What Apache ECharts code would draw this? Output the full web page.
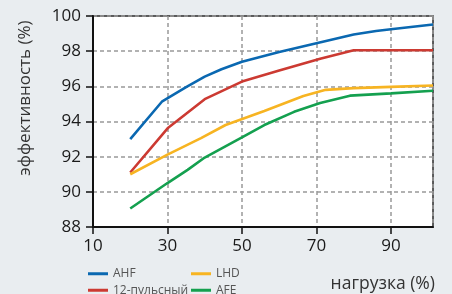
<!DOCTYPE html>
<html>
<head>
<meta charset="utf-8">
<script src="https://cdn.jsdelivr.net/npm/echarts@6/dist/echarts.min.js"></script>
<style>
html,body{margin:0;padding:0;background:#e9edf0;}
#main{width:452px;height:294px;}
</style>
</head>
<body>
<div id="main"></div>
<script>
// данные (нагрузка %, КПД %)
var ahf = [[20,93.0],[28.6,95.15],[35,95.95],[40,96.55],[44.5,96.97],[50,97.4],[60,97.95],[70,98.45],[80,98.95],[86,99.15],[90,99.25],[101.3,99.52]];
var pulse12 = [[20,91.1],[30.2,93.65],[40,95.27],[50,96.27],[60,96.9],[71,97.57],[80,98.05],[90,98.05],[101.3,98.05]];
var lhd = [[20,91.0],[30,92.12],[39,93.05],[45.6,93.8],[56,94.6],[66.5,95.45],[72.5,95.8],[80,95.9],[90,95.97],[101.3,96.05]];
var afe = [[20,89.05],[30,90.5],[35.4,91.25],[40,91.95],[50,93.1],[56,93.8],[64,94.55],[71,95.05],[79,95.47],[90,95.6],[101.3,95.75]];

var names = ['AHF','12-пульсный','LHD','AFE'];
var colors = ['#0a68b1','#cc3a32','#f7b422','#14a04f'];
var xTicks = [10,30,50,70,90];

var myChart = echarts.init(document.getElementById('main'));
var font = '"Open Sans", "Noto Sans", sans-serif';

function mkSeries(name, data, color){
	return {
		name: name,
		type: 'line',
		data: data,
		showSymbol: false,
		symbol: 'none',
		lineStyle: {color: color, width: 2.6},
		itemStyle: {color: color},
		animation: false
	};
}

var legendBase = {
	orient: 'vertical',
	top: 266.5,
	height: 40,
	padding: 0,
	icon: 'rect',
	itemWidth: 20,
	itemHeight: 3,
	itemGap: 2,
	textStyle: {fontFamily: font, fontSize: 12, color: '#555', lineHeight: 14.5}
};

var option = {
	backgroundColor: '#e9edf0',
	animation: false,
	grid: {
		left: 93, right: 19, top: 16, bottom: 67,
		show: true,
		backgroundColor: '#fff',
		borderColor: '#2a2a2a',
		borderWidth: 1.5
	},
	legend: [
		Object.assign({}, legendBase, {left: 88, data: [names[0], names[1]]}),
		Object.assign({}, legendBase, {left: 191, data: [names[2], names[3]]})
	],
	xAxis: {
		type: 'value',
		min: 10,
		max: 101.3,
		interval: 20,
		axisLine: {show: true, lineStyle: {color: '#111', width: 2}},
		axisTick: {show: true, length: 7, lineStyle: {color: '#111', width: 1.5}},
		axisLabel: {
			fontFamily: font, fontSize: 17, color: '#1a1a1a', margin: 11,
			showMaxLabel: false,
			formatter: function(v){ return xTicks.indexOf(v) >= 0 ? String(v) : ''; }
		},
		splitLine: {show: true, lineStyle: {color: '#999', type: [4,3], width: 1.5}}
	},
	yAxis: {
		type: 'value',
		min: 88,
		max: 100,
		interval: 2,
		axisLine: {show: true, lineStyle: {color: '#111', width: 2}},
		axisTick: {show: true, length: 7, lineStyle: {color: '#111', width: 1.5}},
		axisLabel: {fontFamily: font, fontSize: 17, color: '#1a1a1a', margin: 12},
		splitLine: {show: true, lineStyle: {color: '#999', type: [4,3], width: 1.5}}
	},
	graphic: [
		{
			type: 'text',
			x: 25, y: 98,
			rotation: Math.PI / 2,
			style: {text: 'эффективность (%)', font: '17px ' + font, fill: '#333', align: 'center', verticalAlign: 'middle'}
		},
		{
			type: 'text',
			x: 435, y: 284,
			style: {text: 'нагрузка (%)', font: '17.5px ' + font, fill: '#333', align: 'right', verticalAlign: 'middle'}
		}
	],
	series: [
		mkSeries(names[0], ahf, colors[0]),
		mkSeries(names[1], pulse12, colors[1]),
		mkSeries(names[2], lhd, colors[2]),
		mkSeries(names[3], afe, colors[3])
	]
};
myChart.setOption(option, true);
</script>
</body>
</html>
